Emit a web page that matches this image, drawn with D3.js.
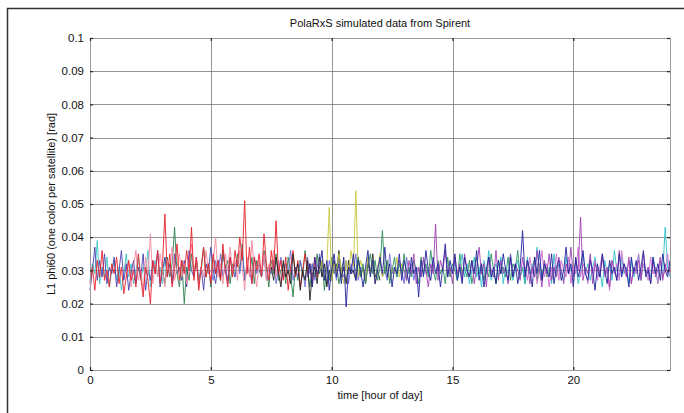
<!DOCTYPE html>
<html>
<head>
<meta charset="utf-8">
<script src="https://cdn.jsdelivr.net/npm/d3@7"></script>
<style>
  body { margin: 0; background: #fff; }
  text { font-family: "Liberation Sans", Arial, sans-serif; fill: #111; }
</style>
</head>
<body>
<div id="chart"></div>
<script>
// chart data (values in mrad, one array per satellite, 0.1 h between samples)
const title = 'PolaRxS simulated data from Spirent';
const xLabel = 'time [hour of day]';
const yLabel = 'L1 phi60 (one color per satellite) [rad]';
const xTicks = [0, 5, 10, 15, 20];
const yTicks = [0, 0.01, 0.02, 0.03, 0.04, 0.05, 0.06, 0.07, 0.08, 0.09, 0.1];
const stepHours = 0.1;

// drawing order: later entries end up on top
const satNames  = ['D', 'B', 'E', 'M', 'C', 'A', 'F', 'G', 'K', 'J', 'L', 'I', 'H'];
const satStart  = [0, 0, 3, 5, 1.5, 0, 7.5, 9.5, 11, 15, 18, 13, 9];
const satColors = ['#3cc4c4', '#4a3fb0', '#2e7f50', '#6a6ad8', '#f48aa0', '#e8212b', '#222222',
                   '#c8c83a', '#2f8f60', '#30c0c8', '#d070d0', '#a040b0', '#24249c'];

const satA = [26,31,24,33,28,36,27,30,25,32, 29,34,26,31,23,28,33,27,30,25,
  35,28,22,31,27,20,33,29,36,26, 32,47,28,35,25,31,38,27,33,29,
  36,30,43,27,34,24,31,37,28,32, 26,35,29,33,27,38,30,25,34,28,
  36,31,40,33,51,29,37,26,34,30, 35,28,41,32,27,36,30,45,29,33,
  27,34,24,31,36,28,33,25,30,35, 29,32,26,34,28,31];
const satB = [24,30,37,27,33,28,35,26,31,29, 34,25,30,36,27,32,24,29,33,26,
  31,28,35,24,30,27,33,29,36,25, 30,34,28,32,26,35,29,31,27,33,
  25,36,30,28,34,27,31,24,32,29, 37,30,26,33,28,35,31,27,34,29, 32];
const satC = [28,33,25,31,36,27,30,24,34,29, 41,26,32,28,35,30,25,33,29,37,
  27,31,35,28,32,26,30,38,29,34, 25,31,28,36,30,27,33,40,28,32,
  26,35,30,37,29,33,27,36,31,24, 34,28,39,30,25,33,29,35,27,32,
  30,36,28,33,26,31];
const satD = [27,32,29,39,26,31,28,34,25,30, 33,27,31,24,29,35,28,32,26,30,
  34,27,31,29,36,25,30,33,28,31, 26,34,29,32,27,30];
const satE = [30,26,34,28,32,43,29,25,33,20, 31,27,35,29,33,26,30,37,28,32,
  25,34,29,31,27,36,30,33,26,32, 28,35,30,38,27,31,29,34,26,33,
  30,28,36,31,25,33,29,35,27,30, 32,26,34,29,22,31,27,33,28,36,
  30,25,32,28,35,29,33,24,31,27, 34,29,32,26,30,33];
const satF = [31,27,34,29,25,33,28,30,26,35, 29,32,24,30,27,33,21,29,31,26,
  34,28,32,25,30,27,33,29,36,28, 31,26,33,29,30,27,34,28,31,26,
  32,29,35,28,30,27];
const satM = [30,27,33,29,35,28,31,26,34,30, 28,33,29,36,27,31,30,26,34,29,
  32,28,35,27,31,29,33,26,30,34, 28,32,29,36,27,31,28,33,30,25,
  34,29,32,27,31,35,28,30,26,33, 29,31,27,34,30,28,33,26,32,29,
  35,27,31,30,28,34,29,32,26,31, 33,28,30,27,35,29,31,28,33,30,
  26,34,29,32,27,31,30,28,33,29, 31];
const satG = [30,33,28,31,49,27,32,29,35,30, 26,33,29,36,31,54,28,33,30,27,
  34,29,32,26,31,35,28,30,33,27, 31,29,34,28,32,30];
const satH = [28,32,25,34,29,31,36,27,33,24, 30,35,28,32,26,34,19,31,29,35,
  27,33,30,25,31,36,28,33,26,30, 34,29,37,28,32,25,31,29,35,27,
  33,30,26,34,29,31,22,33,28,36, 30,27,34,29,32,25,31,38,28,33,
  29,35,27,31,26,34,30,28,33,29, 36,27,32,25,30,34,28,31,26,33,
  29,35,30,27,34,28,32,26,31,42, 28,33,30,25,34,29,36,27,32,30,
  28,35,26,31,33,27,30,37,29,32, 25,34,28,31,36,29,27,33,30,24,
  32,28,35,30,26,33,29,31,27,35, 28,32,30,25,34,29,33,27,31,36,
  28,30,26,34,29,32,27,35,30,28, 33];
const satK = [30,34,28,32,26,31,35,29,33,27, 31,42,29,33,26,30,34,28,32,29,
  35,27,31,28,33,30,26,34,29,32, 28,36,30,27,33,29,31,26,34,28,
  32,30,27,35,29,31,28,33,26,30, 34,29,32,27,31,28,35,30,26,33,
  29,31,28,34,27,32,30,36,28,31, 26,33,29,30,34,27,32,29,31,28, 30];
const satI = [30,27,33,29,35,26,31,28,34,30, 25,32,29,44,27,33,30,36,28,31,
  26,34,29,32,27,35,30,28,33,26, 31,37,29,32,25,34,30,28,36,27,
  33,29,31,26,35,28,32,30,27,34, 29,33,26,31,28,36,30,25,33,29,
  35,27,31,28,34,30,26,32,29,37, 28,33,30,46,27,31,29,35,26,32,
  30,28,34,29,31,25,33,30,27,36, 29,32,28,34,26,31,30,33,27,35,
  29,31,26,33,28,30,34,27,32,29, 31];
const satJ = [29,33,27,31,35,28,32,26,30,34, 28,31,25,33,29,36,27,30,32,28,
  34,26,31,29,35,27,30,33,28,31, 26,34,29,32,28,37,30,27,33,29,
  31,26,35,28,32,30,27,34,29,31, 28,33,26,30,35,29,32,27,31,34,
  28,30,25,33,29,32,27,36,30,28, 34,29,31,26,33,28,30,35,27,32,
  29,31,28,34,30,26,33,29,43,31, 28];
const satL = [31,27,34,29,33,26,30,36,28,32, 25,31,29,35,27,33,30,28,34,26,
  31,29,37,28,32,30,26,34,29,33, 27,31,35,28,30,24,33,29,32,27,
  36,30,28,33,26,31,29,35,28,32, 30,27,34,29,31,26,33,28,30,35, 29];

const satValues = [satD, satB, satE, satM, satC, satA, satF, satG, satK, satJ, satL, satI, satH];

const width = 684, height = 413;
const margin = { top: 38, right: 14, bottom: 43, left: 90 };
const w = width - margin.left - margin.right;
const h = height - margin.top - margin.bottom;

const svg = d3.select('#chart').append('svg')
  .attr('width', width)
  .attr('height', height);

// outer frame (top and left only)
svg.append('path')
  .attr('d', 'M7.5,' + height + ' V8.5 H' + width)
  .attr('fill', 'none')
  .attr('stroke', '#333')
  .attr('stroke-width', 1.5);

const g = svg.append('g')
  .attr('transform', 'translate(' + margin.left + ',' + margin.top + ')');

const x = d3.scaleLinear().domain([0, 24]).range([0, w]);
const y = d3.scaleLinear().domain([0, 0.1]).range([h, 0]);

// grid
g.append('g').selectAll('line').data(yTicks).join('line')
  .attr('x1', 0).attr('x2', w)
  .attr('y1', d => Math.round(y(d)) + 0.5).attr('y2', d => Math.round(y(d)) + 0.5)
  .attr('stroke', '#7a7a7a').attr('stroke-width', 0.8);
g.append('g').selectAll('line').data(xTicks).join('line')
  .attr('y1', 0).attr('y2', h)
  .attr('x1', d => Math.round(x(d)) + 0.5).attr('x2', d => Math.round(x(d)) + 0.5)
  .attr('stroke', '#7a7a7a').attr('stroke-width', 0.8);

// satellite traces
const line = d3.line()
  .x(d => x(d[0]))
  .y(d => y(d[1]));

satValues.forEach((vals, i) => {
  const pts = vals.map((v, k) => [satStart[i] + k * stepHours, v / 1000]);
  g.append('path')
    .datum(pts)
    .attr('fill', 'none')
    .attr('stroke', satColors[i])
    .attr('stroke-width', 1)
    .attr('stroke-opacity', 0.9)
    .attr('d', line);
});

// axes box
g.append('rect')
  .attr('x', 0.5).attr('y', 0.5)
  .attr('width', w).attr('height', h)
  .attr('fill', 'none')
  .attr('stroke', '#9a9a9a')
  .attr('stroke-width', 1);

// inward ticks on all four sides
const yAxisL = d3.axisLeft(y).tickValues(yTicks).tickSize(-3).tickFormat(d3.format('~g'));
const yAxisR = d3.axisRight(y).tickValues(yTicks).tickSize(-3).tickFormat('');
const xAxisB = d3.axisBottom(x).tickValues(xTicks).tickSize(-3).tickFormat(d3.format('d'));
const xAxisT = d3.axisTop(x).tickValues(xTicks).tickSize(-3).tickFormat('');

function styleAxis(sel) {
  sel.select('.domain').remove();
  sel.selectAll('.tick line').attr('stroke', '#222').attr('stroke-width', 1.2);
  sel.selectAll('.tick text').attr('font-size', '11.5px').attr('fill', '#111')
    .attr('font-family', '"Liberation Sans", Arial, sans-serif');
}

g.append('g').call(yAxisL).call(styleAxis)
  .selectAll('.tick text').attr('x', -6);
g.append('g').attr('transform', 'translate(' + w + ',0)').call(yAxisR).call(styleAxis);
g.append('g').attr('transform', 'translate(0,' + h + ')').call(xAxisB).call(styleAxis)
  .selectAll('.tick text').attr('y', 6);
g.append('g').call(xAxisT).call(styleAxis);

// labels
svg.append('text')
  .attr('x', margin.left + w / 2).attr('y', 27)
  .attr('text-anchor', 'middle')
  .attr('font-size', '11px')
  .text(title);

svg.append('text')
  .attr('x', margin.left + w / 2).attr('y', 399)
  .attr('text-anchor', 'middle')
  .attr('font-size', '11px')
  .text(xLabel);

svg.append('text')
  .attr('transform', 'translate(55,' + (margin.top + h / 2) + ') rotate(-90)')
  .attr('text-anchor', 'middle')
  .attr('font-size', '11px')
  .text(yLabel);
</script>
</body>
</html>
